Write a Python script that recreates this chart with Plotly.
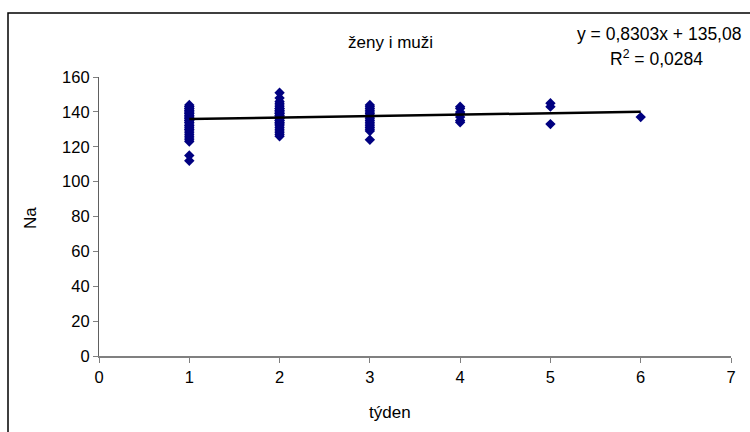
import plotly.graph_objects as go

# Data
week1 = [112, 115, 123, 124, 125, 126, 127, 128, 129, 130, 130, 131, 132, 132, 133, 134, 134,
         135, 135, 136, 136, 137, 137, 138, 138, 139, 139, 140, 140, 141, 141, 142, 142, 143, 143, 144]
week2 = [126, 127, 128, 129, 130, 131, 132, 133, 133, 134, 134, 135, 135, 136, 136, 137, 137,
         138, 138, 139, 139, 140, 140, 141, 141, 142, 142, 143, 144, 145, 146, 148, 151]
week3 = [124, 129, 130, 131, 132, 133, 134, 135, 136, 137, 138, 139, 140, 141, 142, 143, 144]
week4 = [134, 135, 137, 139, 140, 142, 143]
week5 = [133, 143, 145]
week6 = [137]
weeks = [1, 2, 3, 4, 5, 6]
na_by_week = [week1, week2, week3, week4, week5, week6]

slope = 0.8303
intercept = 135.08
trend_x = [1, 6]

x_vals, y_vals = [], []
for w, vals in zip(weeks, na_by_week):
    x_vals += [w] * len(vals)
    y_vals += vals
trend_y = [slope * x + intercept for x in trend_x]

FONT = "Liberation Sans, Arial, sans-serif"
L, R, T, B = 99, 19, 77, 76
W, H = 750, 432
pw, ph = W - L - R, H - T - B

def px(x):
    return (x - L) / pw

def py(y):
    return (H - B - y) / ph

fig = go.Figure()
fig.add_trace(go.Scatter(x=x_vals, y=y_vals, mode="markers",
                         marker=dict(symbol="diamond", size=8, color="#000080",
                                     line=dict(width=0)),
                         showlegend=False, hoverinfo="skip"))
fig.add_trace(go.Scatter(x=trend_x, y=trend_y, mode="lines",
                         line=dict(color="black", width=2.5),
                         showlegend=False, hoverinfo="skip"))

fig.update_layout(
    width=W, height=H,
    margin=dict(l=L, r=R, t=T, b=B),
    paper_bgcolor="white", plot_bgcolor="white",
    font=dict(family=FONT, size=16, color="black"),
    xaxis=dict(range=[0, 7], tickvals=list(range(0, 8)), showgrid=False, zeroline=False,
               showline=True, linecolor="#808080", linewidth=1.5,
               ticks="outside", ticklen=5, tickcolor="#808080",
               tickfont=dict(size=16.5)),
    yaxis=dict(range=[0, 160], tickvals=list(range(0, 161, 20)), showgrid=False, zeroline=False,
               showline=True, linecolor="#606060", linewidth=1.2,
               ticks="outside", ticklen=5, tickcolor="#808080",
               tickfont=dict(size=16.5)),
    shapes=[dict(type="rect", xref="paper", yref="paper",
                 x0=px(8), x1=px(780), y0=py(460), y1=py(13),
                 line=dict(color="black", width=1.5))],
    annotations=[
        dict(text="ženy i muži", x=px(390), y=py(42), xref="paper", yref="paper",
             xanchor="center", yanchor="middle", showarrow=False, font=dict(size=17)),
        dict(text="y = 0,8303x + 135,08", x=px(743), y=py(34), xref="paper", yref="paper",
             xanchor="right", yanchor="middle", showarrow=False, font=dict(size=17.5)),
        dict(text="R<sup>2</sup> = 0,0284", x=px(705), y=py(58), xref="paper", yref="paper",
             xanchor="right", yanchor="middle", showarrow=False, font=dict(size=17.5)),
        dict(text="týden", x=px(390), y=py(412), xref="paper", yref="paper",
             xanchor="center", yanchor="middle", showarrow=False, font=dict(size=17)),
        dict(text="Na", x=px(30), y=py(218), xref="paper", yref="paper",
             xanchor="center", yanchor="middle",
             textangle=-90, showarrow=False, font=dict(size=17)),
    ],
)

fig.write_html("out.html", config={"displayModeBar": False},
               post_script="document.body.style.margin='0';document.body.style.overflow='hidden';")
